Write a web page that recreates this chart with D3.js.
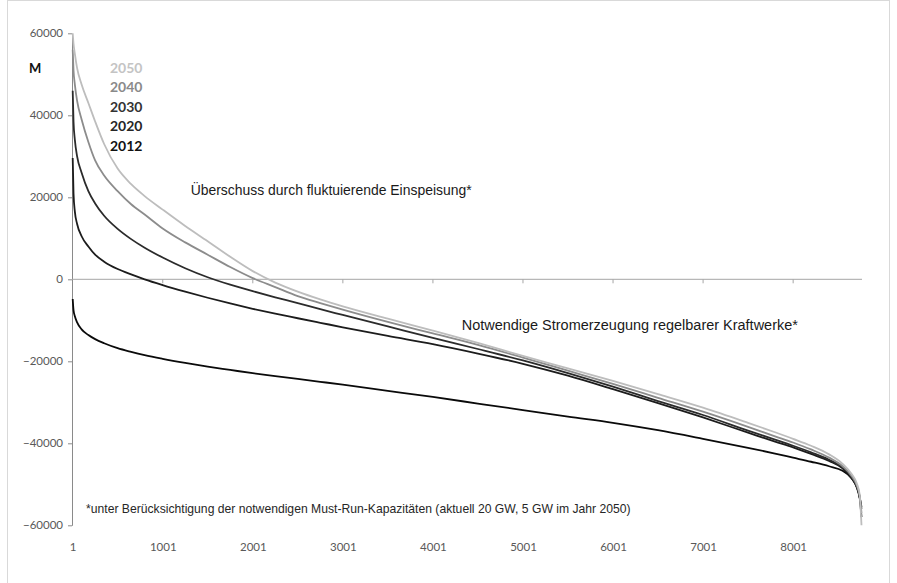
<!DOCTYPE html>
<html>
<head>
<meta charset="utf-8">
<script src="https://cdn.jsdelivr.net/npm/d3@7"></script>
<style>
  html, body { margin: 0; padding: 0; background: #fff; }
  svg { display: block; }
</style>
</head>
<body>
<svg id="chart" width="897" height="583"></svg>
<script>
// Hours of the year (sorted duration), sampled positions
const hours = [1, 10, 25, 50, 100, 175, 250, 350, 500, 650, 800, 1000, 1250, 1500, 1750, 2000, 2250, 2500, 2750, 3000, 3500, 4000, 4500, 5000, 5500, 6000, 6500, 7000, 7500, 7800, 8000, 8200, 8400, 8550, 8650, 8710, 8740, 8760];

// Residual load (MW) per scenario year, sorted descending
const y2050 = [60000, 57500, 55000, 51500, 47500, 43000, 38500, 33000, 27000, 23200, 20300, 17000, 13000, 9300, 5500, 2000, -800, -3000, -4900, -6600, -9600, -12500, -15500, -18700, -21700, -24800, -28000, -31300, -35000, -37300, -38900, -40600, -42700, -45000, -47500, -49900, -52600, -60000];
const y2040 = [56000, 51000, 47500, 43500, 39000, 33500, 29000, 25300, 21500, 18300, 15800, 12400, 9000, 6000, 3000, 300, -1900, -4100, -5800, -7400, -10400, -13200, -16000, -19100, -22300, -25500, -28900, -32300, -36000, -38300, -39800, -41500, -43500, -45600, -48000, -50400, -52900, -57000];
const y2030 = [46000, 38500, 34000, 30000, 26000, 21500, 18500, 15500, 12300, 9800, 7700, 5300, 2700, 500, -1300, -2900, -4400, -5800, -7300, -8700, -11500, -14300, -17000, -19800, -22900, -26200, -29700, -33100, -36900, -39100, -40600, -42200, -44000, -45900, -48200, -50700, -53100, -56000];
const y2020 = [29600, 21000, 16500, 13500, 10500, 8000, 6000, 4300, 2500, 1200, 0, -1400, -3000, -4500, -5900, -7200, -8400, -9500, -10600, -11700, -13800, -15800, -18100, -20600, -23500, -26800, -30200, -33700, -37400, -39600, -41000, -42600, -44300, -46100, -48500, -50900, -53300, -55500];
const y2012 = [-4800, -7500, -9000, -10500, -12200, -13600, -14600, -15600, -16800, -17700, -18500, -19400, -20400, -21300, -22100, -22900, -23600, -24300, -25000, -25700, -27200, -28700, -30300, -31900, -33500, -35000, -36800, -38900, -41100, -42500, -43500, -44500, -45600, -46700, -48500, -50800, -53300, -58000];

const seriesNames = ["2050", "2040", "2030", "2020", "2012"];
const seriesValues = [y2050, y2040, y2030, y2020, y2012];
const seriesColors = ["#bdbdbd", "#8c8c8c", "#2b2b2b", "#1c1c1c", "#0a0a0a"];
const legendColors = ["#c4c4c4", "#8a8a8a", "#333333", "#262626", "#111111"];

const yTicks = [60000, 40000, 20000, 0, -20000, -40000, -60000];
const xTicks = [1, 1001, 2001, 3001, 4001, 5001, 6001, 7001, 8001];

const unitLabel = "M";
const noteSurplus = "Überschuss durch fluktuierende Einspeisung*";
const noteDispatch = "Notwendige Stromerzeugung regelbarer Kraftwerke*";
const footnote = "*unter Berücksichtigung der notwendigen Must-Run-Kapazitäten (aktuell 20 GW, 5 GW im Jahr 2050)";

const svg = d3.select("#chart");
const numFont = "Lato, 'Open Sans', sans-serif";
const textFont = "'Liberation Sans', Arial, sans-serif";

// chart frame
svg.append("rect")
  .attr("x", 7.5).attr("y", 0.5)
  .attr("width", 882).attr("height", 590)
  .attr("fill", "#fff").attr("stroke", "#d9d9d9");

const x = d3.scaleLinear().domain([1, 8760]).range([72.7, 861.5]);
const y = d3.scaleLinear().domain([-60000, 60000]).range([525.3, 33.3]);

// value axis
const yAxis = svg.append("g")
  .attr("transform", "translate(72,0)")
  .call(d3.axisLeft(y).tickValues(yTicks).tickSizeInner(4).tickSizeOuter(0).tickPadding(5).tickFormat(d3.format("d")));
yAxis.select(".domain").attr("stroke", "#8a8a8a");
yAxis.selectAll(".tick line").attr("stroke", "#8a8a8a");
yAxis.selectAll(".tick text")
  .attr("fill", "#595959").style("font-family", numFont).style("font-size", "11.5px");

// category axis along the zero line
svg.append("line")
  .attr("x1", 72).attr("x2", 862)
  .attr("y1", y(0)).attr("y2", y(0))
  .attr("stroke", "#a6a6a6");
svg.append("g").selectAll("line")
  .data(xTicks.slice(1))
  .join("line")
  .attr("x1", d => x(d)).attr("x2", d => x(d))
  .attr("y1", y(0)).attr("y2", y(0) + 4)
  .attr("stroke", "#a6a6a6");

// category labels at the bottom
const xAxis = svg.append("g")
  .attr("transform", `translate(0,${y(-60000)})`)
  .call(d3.axisBottom(x).tickValues(xTicks).tickSize(0).tickPadding(18).tickFormat(d3.format("d")));
xAxis.select(".domain").remove();
xAxis.selectAll(".tick text")
  .attr("fill", "#595959").style("font-family", numFont).style("font-size", "11.5px");

// duration curves
const line = d3.line()
  .x((d, i) => x(hours[i]))
  .y(d => y(d))
  .curve(d3.curveMonotoneX);

const order = [4, 3, 2, 1, 0];
svg.append("g").selectAll("path")
  .data(order)
  .join("path")
  .attr("d", k => line(seriesValues[k]))
  .attr("fill", "none")
  .attr("stroke", k => seriesColors[k])
  .attr("stroke-width", 1.8)
  .attr("stroke-linejoin", "round");

// unit label
svg.append("text")
  .attr("x", 29).attr("y", 73)
  .attr("fill", "#111")
  .style("font-family", numFont).style("font-weight", "bold").style("font-size", "13px")
  .text(unitLabel);

// year legend
svg.append("g").selectAll("text")
  .data(seriesNames)
  .join("text")
  .attr("x", 110)
  .attr("y", (d, i) => 73 + i * 19.4)
  .attr("fill", (d, i) => legendColors[i])
  .style("font-family", numFont).style("font-weight", "bold").style("font-size", "14px")
  .text(d => d);

// annotations, sized to their spans
function fitText(str, x0, x1, baseline, color) {
  const t = svg.append("text")
    .attr("x", x0).attr("y", baseline)
    .attr("fill", color)
    .style("font-family", textFont).style("font-size", "12px")
    .text(str);
  const w = t.node().getComputedTextLength();
  t.style("font-size", (12 * (x1 - x0) / w).toFixed(2) + "px");
  return t;
}
fitText(noteSurplus, 190.7, 471.7, 195, "#1a1a1a");
fitText(noteDispatch, 461.7, 798, 329.5, "#1a1a1a");
fitText(footnote, 86, 631, 512.5, "#262626");
</script>
</body>
</html>
